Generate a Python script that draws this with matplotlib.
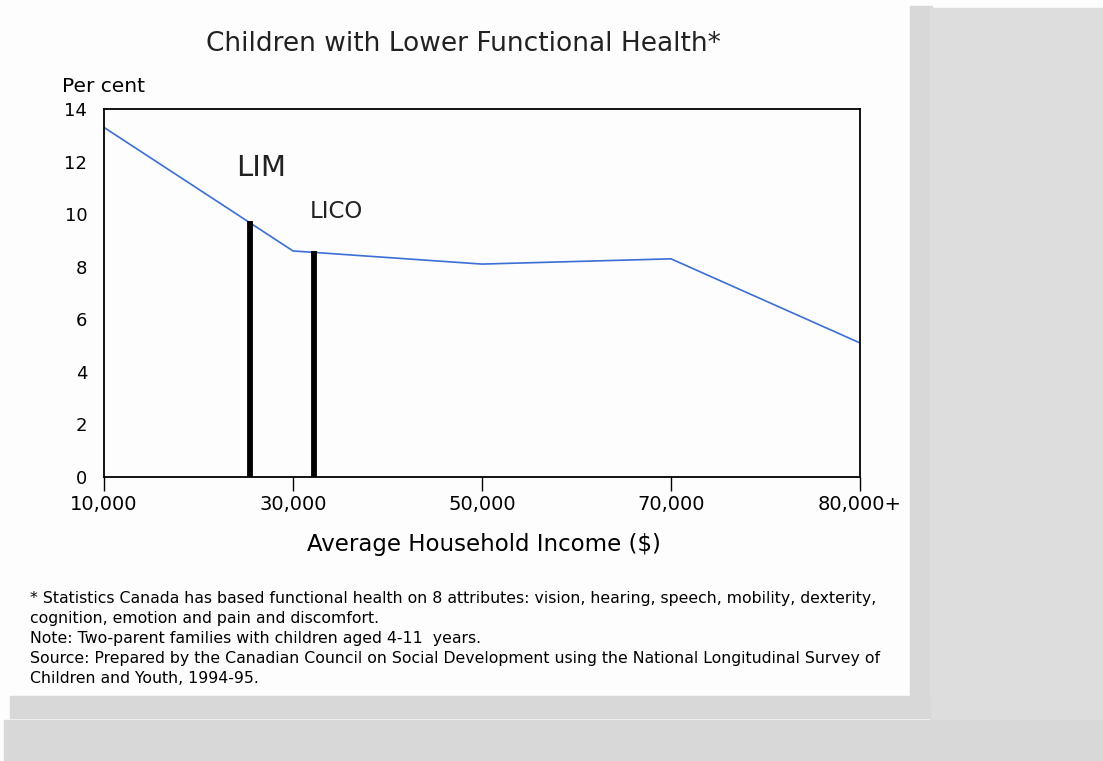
import matplotlib
matplotlib.use('Agg')
import matplotlib.pyplot as plt
from matplotlib.patches import Rectangle

# data
income_labels = ['10,000', '30,000', '50,000', '70,000', '80,000+']
per_cent = [13.3, 8.6, 8.1, 8.3, 5.1]

# poverty lines (position along the income axis, height)
line_names = ['LIM', 'LICO']
line_pos = [0.77, 1.11]
line_top = [9.75, 8.6]

footnotes = [
    '* Statistics Canada has based functional health on 8 attributes: vision, hearing, speech, mobility, dexterity,',
    'cognition, emotion and pain and discomfort.',
    'Note: Two-parent families with children aged 4-11  years.',
    'Source: Prepared by the Canadian Council on Social Development using the National Longitudinal Survey of',
    'Children and Youth, 1994-95.',
]

plt.rcParams['font.family'] = ['DejaVu Sans']

W, H = 1103, 761
fig = plt.figure(figsize=(W / 100, H / 100), dpi=100)
fig.patch.set_facecolor('#fdfdfd')

# grey page frame around the chart
def px_rect(x0, y0, x1, y1, color):
    fig.patches.append(Rectangle((x0 / W, 1 - y1 / H), (x1 - x0) / W, (y1 - y0) / H,
                                 transform=fig.transFigure, color=color, zorder=0))

px_rect(910, 6, 932, 697, '#d8d8d8')
px_rect(930, 8, 1103, 737, '#dddddd')
px_rect(10, 696, 930, 718, '#d8d8d8')
px_rect(4, 720, 1102, 761, '#d8d8d8')

ax = fig.add_axes([104 / W, 1 - 477 / H, 756 / W, 368 / H])
ax.set_facecolor('#fdfdfd')
x = list(range(len(income_labels)))
ax.plot(x, per_cent, color='#3b6fd6', lw=1.2)

for name, p, t in zip(line_names, line_pos, line_top):
    ax.plot([p, p], [0, t], color='black', lw=4.2, solid_capstyle='butt')

ax.text(0.83, 11.75, 'LIM', fontsize=21, ha='center', va='center', color='#222222')
ax.text(1.23, 10.1, 'LICO', fontsize=16.5, ha='center', va='center', color='#222222')

ax.set_xlim(0, 4)
ax.set_ylim(0, 14)
ax.set_xticks(x)
ax.set_xticklabels(income_labels, fontsize=14)
ax.set_yticks(range(0, 15, 2))
ax.tick_params(axis='y', length=0, pad=12, labelsize=13)
ax.tick_params(axis='x', length=10, width=1, direction='out', pad=3)
for s in ax.spines.values():
    s.set_linewidth(1.3)

fig.text(463 / W, 1 - 44 / H, 'Children with Lower Functional Health*', fontsize=19,
         ha='center', va='center', color='#222222')
fig.text(62 / W, 1 - 86 / H, 'Per cent', fontsize=14.5, ha='left', va='center')
fig.text(484 / W, 1 - 545 / H, 'Average Household Income ($)', fontsize=16.5,
         ha='center', va='center')

for i, line in enumerate(footnotes):
    fig.text(30 / W, 1 - (598 + i * 20.2) / H, line, fontsize=11.3, ha='left', va='center')

fig.savefig('out.png', dpi=100)
